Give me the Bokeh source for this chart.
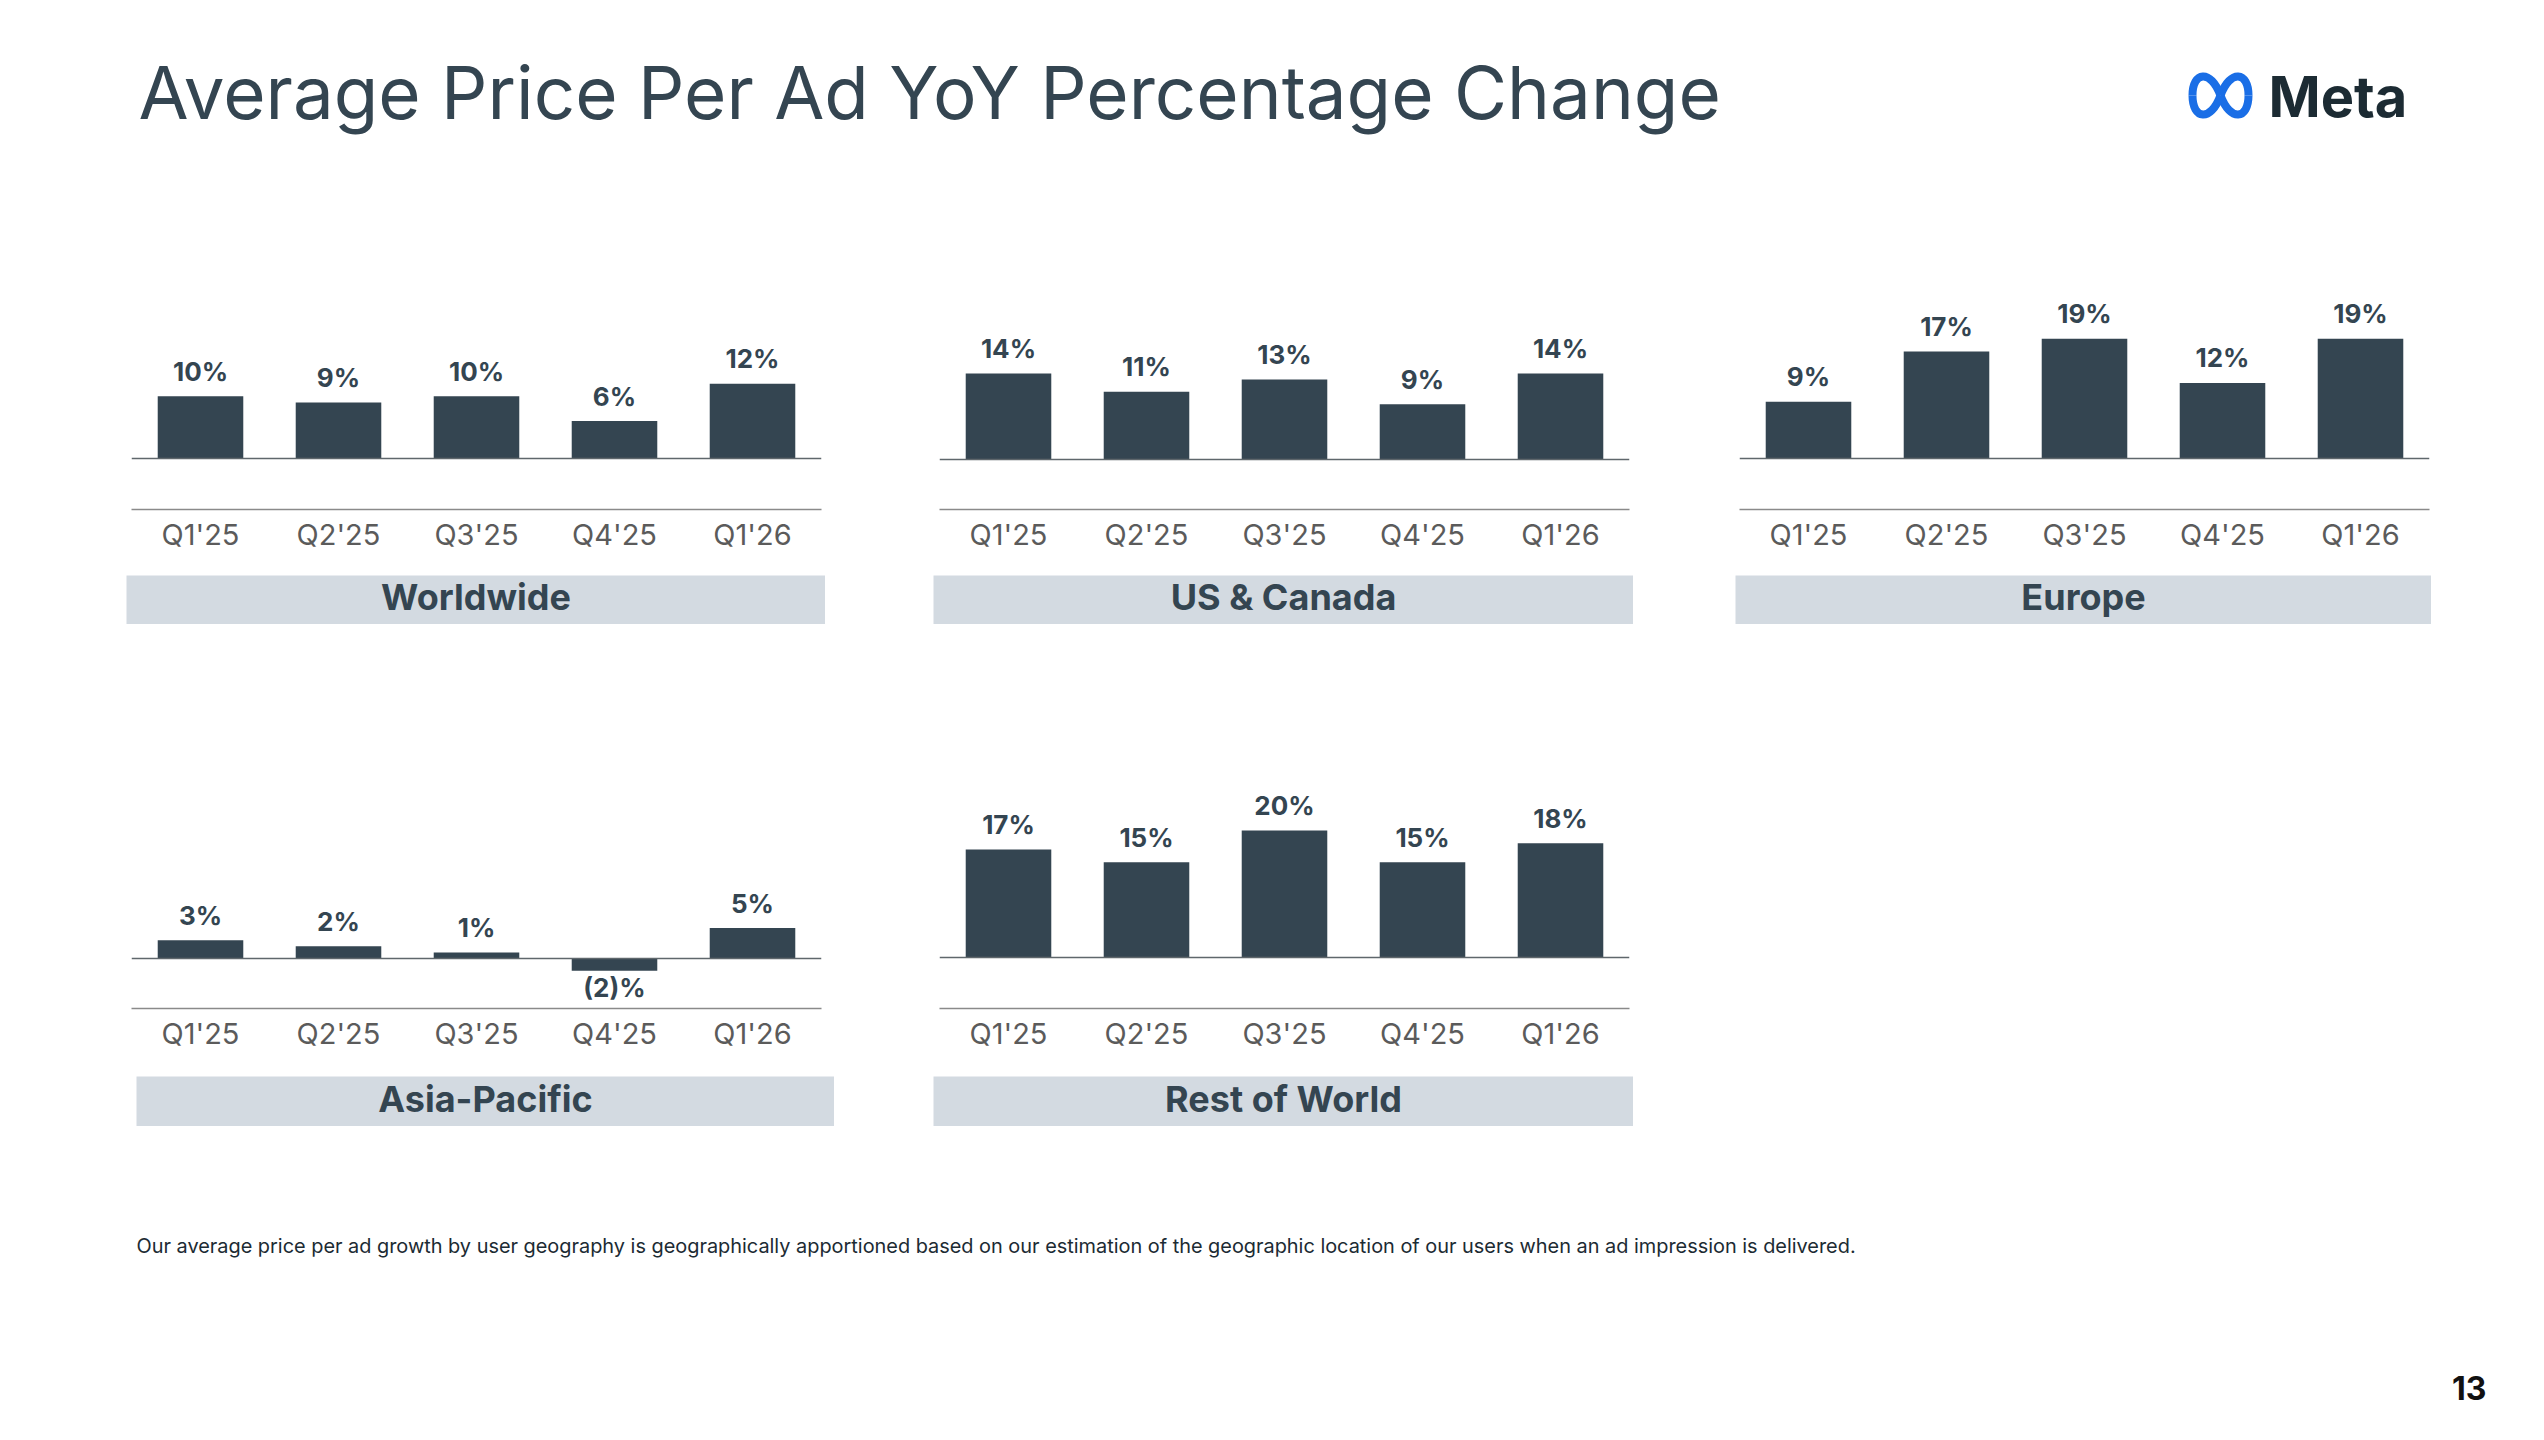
from bokeh.plotting import figure
from bokeh.models import ColumnDataSource, FactorRange, Range1d, Span, Spacer, Label
from bokeh.layouts import row, column
from bokeh.embed import file_html
from bokeh.resources import INLINE
from bokeh.core.properties import value

# ---------------- data ----------------
quarters = ["Q1'25", "Q2'25", "Q3'25", "Q4'25", "Q1'26"]
worldwide = [10, 9, 10, 6, 12]
us_canada = [14, 11, 13, 9, 14]
europe = [9, 17, 19, 12, 19]
asia_pacific = [3, 2, 1, -2, 5]
rest_of_world = [17, 15, 20, 15, 18]
region_names = ["Worldwide", "US & Canada", "Europe", "Asia-Pacific", "Rest of World"]

title_text = "Average Price Per Ad YoY Percentage Change"
footnote_text = ("Our average price per ad growth by user geography is geographically apportioned "
                 "based on our estimation of the geographic location of our users when an ad "
                 "impression is delivered.")
page_number = "13"

# ---------------- style ----------------
FONT = "Inter"
DARK = "#344551"
BOX = "#d3dae1"
TICK = "#5b5b5b"


def fmt(v):
    return f"{v}%" if v >= 0 else f"({-v})%"


def blank(width, height, xr, yr, **kw):
    p = figure(width=width, height=height, x_range=xr, y_range=yr,
               x_axis_location=None, y_axis_location=None, toolbar_location=None,
               output_backend="svg", min_border=0, outline_line_color=None, **kw)
    p.grid.visible = False
    return p


def chart(values, px_per_unit, top_px, base_px, bottom_px, height, border_bottom):
    y_end = (base_px - top_px) / px_per_unit
    y_start = -(bottom_px - base_px) / px_per_unit
    p = figure(width=700, height=height, x_range=FactorRange(*quarters),
               y_range=Range1d(y_start, y_end), y_axis_location=None,
               toolbar_location=None, output_backend="svg",
               min_border_left=5, min_border_right=5, min_border_top=0,
               min_border_bottom=border_bottom, outline_line_color=None)
    p.grid.visible = False
    src = ColumnDataSource(dict(q=quarters, v=values,
                                lab=[fmt(v) for v in values],
                                off=[-25 if v >= 0 else 17 for v in values]))
    p.vbar(x="q", top="v", bottom=0, width=0.62, source=src,
           fill_color=DARK, line_color=None)
    p.add_layout(Span(location=0, dimension="width", line_color="#5f676c", line_width=1.5))
    p.text(x="q", y="v", text="lab", y_offset="off", source=src,
           text_align="center", text_baseline="alphabetic",
           text_font=value(FONT), text_font_size="26px", text_font_style="bold",
           text_color=DARK)
    ax = p.xaxis[0]
    ax.axis_line_color = "#8a8a8a"
    ax.axis_line_width = 1.5
    ax.major_tick_line_color = None
    ax.minor_tick_line_color = None
    ax.major_label_text_font = FONT
    ax.major_label_text_font_size = "29px"
    ax.major_label_text_color = TICK
    ax.major_label_standoff = 1
    return p


def box(name, width, height):
    p = blank(width, height, Range1d(0, 1), Range1d(0, 1),
              background_fill_color=BOX, border_fill_color=BOX)
    p.add_layout(Label(x=0.5, y=0.56, text=name, text_align="center",
                       text_baseline="middle", text_font=FONT,
                       text_font_size="36px", text_font_style="bold",
                       text_color=DARK))
    return p


def place(items, height):
    kids = []
    cur = 0
    for x, m in items:
        if x > cur:
            kids.append(Spacer(width=x - cur, height=height))
        kids.append(m)
        cur = x + m.width
    return row(*kids)


# ---------------- header ----------------
hdr = blank(2544, 150, Range1d(0, 2544), Range1d(150, 0))
hdr.text(x=[138], y=[92], text=[title_text], text_font=value(FONT),
         text_font_size="72.7px", text_color=DARK, text_baseline="alphabetic",
         text_align="left")
# Meta logo: infinity mark + wordmark
cx, cy, W, H = 2220, 95, 28, 26.7
hdr.bezier(x0=[cx, cx + W, cx, cx - W], y0=[cy, cy, cy, cy],
           x1=[cx + W, cx, cx - W, cx], y1=[cy, cy, cy, cy],
           cx0=[cx + 0.35 * W, cx + W, cx - 0.35 * W, cx - W],
           cy0=[cy - H, cy + 0.9 * H, cy - H, cy + 0.9 * H],
           cx1=[cx + W, cx + 0.35 * W, cx - W, cx - 0.35 * W],
           cy1=[cy - 0.9 * H, cy + H, cy - 0.9 * H, cy + H],
           line_color="#1a6ee6", line_width=8)
hdr.text(x=[2268], y=[96], text=["Meta"], text_font=value(FONT),
         text_font_size="56px", text_font_style="bold", text_color="#1c2b33",
         text_baseline="alphabetic", text_align="left")

# ---------------- panels ----------------
ww = chart(worldwide, 6.23, 0, 308, 359, 425, 66)
us = chart(us_canada, 6.15, 0, 309, 359, 425, 66)
eu = chart(europe, 6.30, 0, 308, 359, 425, 66)
ap = chart(asia_pacific, 6.10, 0, 278, 328, 396, 68)
rw = chart(rest_of_world, 6.49, 0, 283, 335, 396, 61)

row1c = place([(126, ww), (934, us), (1734, eu)], 425)
row1b = place([(126, box(region_names[0], 699, 49)),
               (933, box(region_names[1], 700, 49)),
               (1735, box(region_names[2], 696, 49))], 49)
row2c = place([(126, ap), (934, rw)], 396)
row2b = place([(136, box(region_names[3], 698, 50)),
               (933, box(region_names[4], 700, 50))], 50)

# ---------------- footer ----------------
ftr = blank(2544, 314, Range1d(0, 2544), Range1d(314, 0))
ftr.text(x=[136], y=[119], text=[footnote_text], text_font=value(FONT),
         text_font_size="19.9px", text_color="#1c2b33", text_baseline="alphabetic",
         text_align="left")
ftr.text(x=[2486], y=[261], text=[page_number], text_font=value(FONT),
         text_font_size="32px", text_font_style="bold", text_color="#111111",
         text_baseline="alphabetic", text_align="right")

page = column(hdr, row1c, row1b, Spacer(width=2544, height=56), row2c, row2b, ftr)

open("out.html", "w").write(file_html(page, INLINE, title="Average Price Per Ad YoY Percentage Change"))
